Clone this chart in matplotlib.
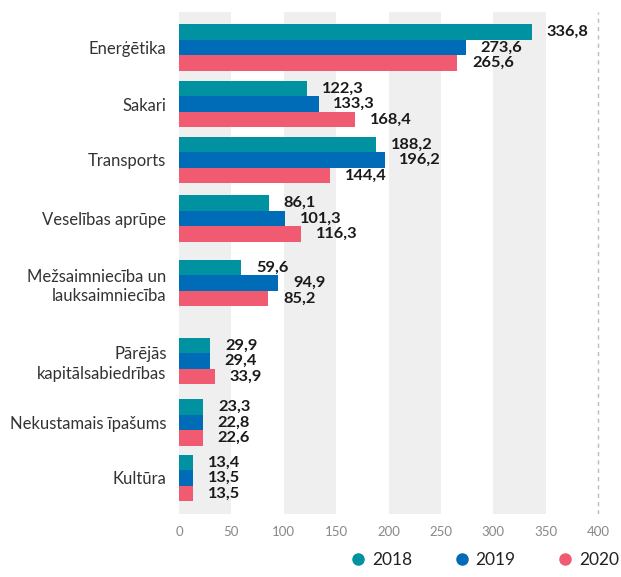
import matplotlib.pyplot as plt
from matplotlib.lines import Line2D

categories = ["Enerģētika", "Sakari", "Transports", "Veselības aprūpe",
              "Mežsaimniecība un\nlauksaimniecība", "Pārējās\nkapitālsabiedrības",
              "Nekustamais īpašums", "Kultūra"]
years = ["2018", "2019", "2020"]
v2018 = [336.8, 122.3, 188.2, 86.1, 59.6, 29.9, 23.3, 13.4]
v2019 = [273.6, 133.3, 196.2, 101.3, 94.9, 29.4, 22.8, 13.5]
v2020 = [265.6, 168.4, 144.4, 116.3, 85.2, 33.9, 22.6, 13.5]

# group centres (the original spacing is a bit uneven)
group_pos = [0, 1.0, 1.99, 3.03, 4.17, 5.55, 6.64, 7.62]
colors = ["#0092a1", "#006cb7", "#f05b72"]
bar_h = 0.275

plt.rcParams['font.family'] = ['Lato', 'DejaVu Sans']

fig = plt.figure(figsize=(6.21, 5.77), dpi=100)
ax = fig.add_axes([179 / 621, 1 - 514 / 577, 440 / 621, 502 / 577])

# alternating background bands
for x0 in range(0, 400, 100):
    ax.axvspan(x0, x0 + 50, color="#efefef", zorder=0, lw=0)
ax.axvline(400, color="#bbbbbb", ls=(0, (3, 3)), lw=1, zorder=0)

for i, vals in enumerate([v2018, v2019, v2020]):
    ys = [p + (i - 1) * bar_h for p in group_pos]
    ax.barh(ys, vals, height=bar_h, color=colors[i], zorder=2)
    for y, v in zip(ys, vals):
        ax.text(v + 14, y, f"{v:.1f}".replace(".", ","), va="center", ha="left",
                fontsize=11.8, fontweight="bold", color="#1a1a1a")

ax.set_xlim(0, 420)
ax.set_ylim(8.26, -0.63)
ax.set_xticks(range(0, 401, 50))
ax.set_yticks(group_pos)
ax.set_yticklabels(categories, fontsize=12, color="#333333", linespacing=1.25)
ax.tick_params(axis="y", length=0, pad=9)
ax.tick_params(axis="x", length=0, labelsize=9.5, labelcolor="#888888", pad=9)
for s in ax.spines.values():
    s.set_visible(False)

handles = [Line2D([], [], marker="o", ls="", color=c, markersize=8) for c in colors]
fig.legend(handles, years, loc="lower right", bbox_to_anchor=(1.022, -0.012), ncol=3,
           frameon=False, fontsize=12.5, handlelength=1.0, handletextpad=0.3,
           columnspacing=2.35, labelcolor="#222222")

fig.savefig("out.png", dpi=100)
